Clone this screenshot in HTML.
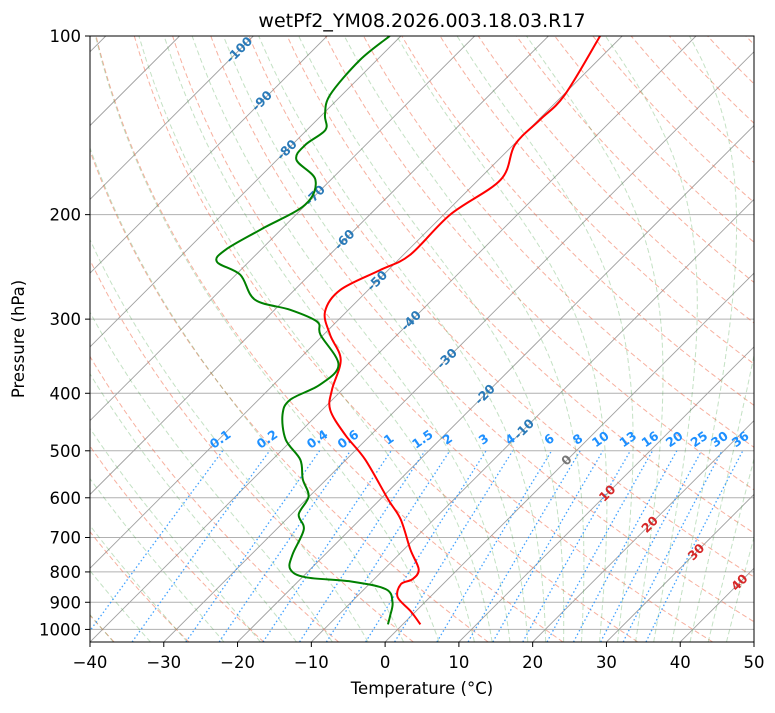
<!DOCTYPE html>
<html><head><meta charset="utf-8"><style>
body{margin:0;background:#fff}
svg text{font-family:"DejaVu Sans","Liberation Sans",sans-serif}
</style></head><body>
<svg id="c" width="775" height="708" viewBox="0 0 775 708" xmlns="http://www.w3.org/2000/svg">
<defs><clipPath id="clip"><rect x="90" y="36" width="664" height="606"/></clipPath></defs>
<rect x="0" y="0" width="775" height="708" fill="#fff"/>
<g id="bg" clip-path="url(#clip)"></g>
<g id="lbl"></g>
<g id="data" clip-path="url(#clip)"></g>
<rect x="90" y="36" width="664" height="606" fill="none" stroke="#000" stroke-width="1"/>
<g id="axes"></g>
<text x="422" y="27" text-anchor="middle" font-size="19">wetPf2_YM08.2026.003.18.03.R17</text>
<text x="422" y="694" text-anchor="middle" font-size="16.5">Temperature (°C)</text>
<text x="24" y="339" text-anchor="middle" font-size="16.5" transform="rotate(-90 24 339)">Pressure (hPa)</text>
</svg>
<script>
const tempP=[100,125.7,138.4,152.5,174.7,200,233.9,248,267.8,291.6,318.8,351,394.5,426.6,469.9,517.6,604,652.6,733.5,792,823,838.5,882,932,980.8];
const tempT=[-53.0,-49.8,-49.8,-49.8,-47.0,-49.1,-49.1,-51.1,-53.8,-52.9,-49.1,-44.3,-41.4,-38.9,-33.5,-27.4,-18.9,-14.5,-9.1,-5.3,-4.8,-5.7,-4.4,-0.7,2.4];
const dewP=[100,109.8,125.7,135.8,143.9,152.5,161.6,174.7,192.5,212,229.3,240.3,252.6,278.3,289.3,303.1,318.8,358,386.8,410.3,434.8,478.8,517.6,558.6,597,640,678,748,792,817,830,855,899.5,947.5,980.8];
const dewT=[-81.5,-82.3,-81.6,-79.6,-77.5,-78.2,-77.4,-72.1,-70.1,-72.8,-74.8,-74.3,-69.4,-64.0,-57.9,-52.6,-50.4,-43.9,-43.7,-45.7,-44.7,-40.9,-36.2,-33.2,-30.1,-29.0,-26.3,-24.4,-22.7,-19.5,-12.9,-7.1,-4.4,-2.9,-2.0];
const xTicks=[-40,-30,-20,-10,0,10,20,30,40,50];
const pTicks=[100,200,300,400,500,600,700,800,900,1000];
const isoLabelT=[-100,-90,-80,-70,-60,-50,-40,-30,-20,-10,0,10,20,30,40];
const isoLabelP=[105.6,128.7,155.6,185.7,220.5,258.6,302,349.8,402,460,519,590,666,741,834];
const mixVals=[0.1,0.2,0.4,0.6,1,1.5,2,3,4,6,8,10,13,16,20,25,30,36];
const mixLabels=["0.1","0.2","0.4","0.6","1","1.5","2","3","4","6","8","10","13","16","20","25","30","36"];
const dryT0=[-40,-30,-20,-10,0,10,20,30,40,50,60,70,80,90,100,110,120,130,140,150,160,170,180,190,200];
const moistT0=[-50,-45,-40,-35,-30,-25,-20,-15,-10,-5,0,5,10,12.5,15,17.5,20,22.5,25,27.5,30,32.5,35,37.5,40,42.5,45];

const NS='http://www.w3.org/2000/svg';
const X0=90,X1=754,Y0=36,Y1=642,TMIN=-40,TMAX=50,PTOP=100,PBOT=1050;
const K=(Y1-Y0)/Math.log10(PBOT/PTOP);
const sx=(X1-X0)/(TMAX-TMIN);
function py(p){return Y0+Math.log10(p/PTOP)*K;}
function tx(T,p){return X0+(T-TMIN)*sx+(Y1-py(p));}
function mk(tag,attrs,parent){const e=document.createElementNS(NS,tag);for(const k in attrs)e.setAttribute(k,attrs[k]);parent.appendChild(e);return e;}
function path(pts){return pts.map((q,i)=>(i?'L':'M')+q[0].toFixed(1)+' '+q[1].toFixed(1)).join(' ');}
function smooth(pts){let d='M'+pts[0][0].toFixed(1)+' '+pts[0][1].toFixed(1);
for(let i=0;i<pts.length-1;i++){const p0=pts[Math.max(0,i-1)],p1=pts[i],p2=pts[i+1],p3=pts[Math.min(pts.length-1,i+2)];
const c1=[p1[0]+(p2[0]-p0[0])/6,p1[1]+(p2[1]-p0[1])/6],c2=[p2[0]-(p3[0]-p1[0])/6,p2[1]-(p3[1]-p1[1])/6];
d+=` C${c1[0].toFixed(1)} ${c1[1].toFixed(1)} ${c2[0].toFixed(1)} ${c2[1].toFixed(1)} ${p2[0].toFixed(1)} ${p2[1].toFixed(1)}`;}
return d;}
const bg=document.getElementById('bg'),lbl=document.getElementById('lbl'),dg=document.getElementById('data'),ax=document.getElementById('axes');
const plist=[];for(let i=0;i<=60;i++)plist.push(PBOT*Math.pow(PTOP/PBOT,i/60));

pTicks.forEach(p=>{const l=mk('line',{x1:X0,x2:X1,y1:py(p),y2:py(p),stroke:'#b0b0b0','stroke-width':1},bg);

});
for(let T=-160;T<=50;T+=10){const l=mk('line',{x1:tx(T,PBOT),y1:Y1,x2:tx(T,PTOP),y2:Y0,stroke:'#a0a0a0','stroke-width':0.9},bg);

}
dryT0.forEach(t0=>{const th=t0+273.15;const pts=plist.map(p=>[tx(th*Math.pow(p/1000,0.2857)-273.15,p),py(p)]);
const e=mk('path',{d:path(pts),fill:'none',stroke:'#f07050','stroke-opacity':0.55,'stroke-width':1,'stroke-dasharray':'5,3'},bg);

});
function es(Tc){return 6.112*Math.exp(17.67*Tc/(Tc+243.5));}
function dTdp(T,p){const Rd=287.04,Cp=1005.7,Lv=2.501e6,eps=0.622;const e=es(T-273.15);const rs=eps*e/(p-e);
return (Rd*T+Lv*rs)/(p*(Cp+Lv*Lv*rs*eps/(Rd*T*T)));}
function moist(t0){let T=t0+273.15,p=1000;
const down=[];let Td=T,pd=1000;const st=1;while(pd<PBOT){Td+=dTdp(Td,pd)*st;pd+=st;down.push([Td,pd]);}
const up=[[T,p]];while(p>PTOP){const h=-2;const k1=dTdp(T,p),k2=dTdp(T+k1*h/2,p+h/2),k3=dTdp(T+k2*h/2,p+h/2),k4=dTdp(T+k3*h,p+h);T+=h*(k1+2*k2+2*k3+k4)/6;p+=h;up.push([T,p]);}
return down.reverse().concat(up).filter((q,i)=>i%5==0).map(q=>[tx(q[0]-273.15,q[1]),py(q[1])]);}
moistT0.forEach(t0=>{const e=mk('path',{d:path(moist(t0)),fill:'none',stroke:'#3a9a3a','stroke-opacity':0.3,'stroke-width':1,'stroke-dasharray':'5,3'},bg);

});
function tdw(w,p){const e=w*p/(622+w);const l=Math.log(e/6.112);return 243.5*l/(17.67-l);}
mixVals.forEach((w,i)=>{const pts=[];for(let p=PBOT;p>=500;p-=10)pts.push([tx(tdw(w,p),p),py(p)]);
const e=mk('path',{d:path(pts),fill:'none',stroke:'#1e90ff','stroke-opacity':0.85,'stroke-width':1.3,'stroke-dasharray':'1.5,2.5'},bg);


const xa=tx(tdw(w,500),500),ya=py(500)-8;
const t=mk('text',{x:xa,y:ya,'font-size':12.5,'font-weight':'bold',fill:'#1e90ff','text-anchor':'middle',transform:`rotate(-35 ${xa} ${ya})`},lbl);
t.textContent=mixLabels[i];

});
isoLabelT.forEach((T,i)=>{const p=isoLabelP[i];const x=tx(T,p),y=py(p);
const t=mk('text',{x:x,y:y+4,'font-size':12.5,'font-weight':'bold','text-anchor':'middle',fill:T<0?'#2a7ab8':(T==0?'#777':'#d62728'),transform:`rotate(-45 ${x} ${y})`},lbl);
t.textContent=T;

});
const tp=mk('path',{d:smooth(tempP.map((p,i)=>[tx(tempT[i],p),py(p)])),fill:'none',stroke:'#ff0000','stroke-width':2,'stroke-linejoin':'round'},dg);


const dp=mk('path',{d:smooth(dewP.map((p,i)=>[tx(dewT[i],p),py(p)])),fill:'none',stroke:'#008000','stroke-width':2,'stroke-linejoin':'round'},dg);


xTicks.forEach(T=>{const x=X0+(T-TMIN)*sx;mk('line',{x1:x,x2:x,y1:Y1,y2:Y1+5,stroke:'#000'},ax);
const t=mk('text',{x:x,y:Y1+26,'font-size':16.5,'text-anchor':'middle'},ax);t.textContent=(T<0?'\u2212'+(-T):T);

});
pTicks.forEach(p=>{const y=py(p);mk('line',{x1:X0-5,x2:X0,y1:y,y2:y,stroke:'#000'},ax);
const t=mk('text',{x:X0-9,y:y+6,'font-size':16.5,'text-anchor':'end'},ax);t.textContent=p;

});
</script>
</body></html>
